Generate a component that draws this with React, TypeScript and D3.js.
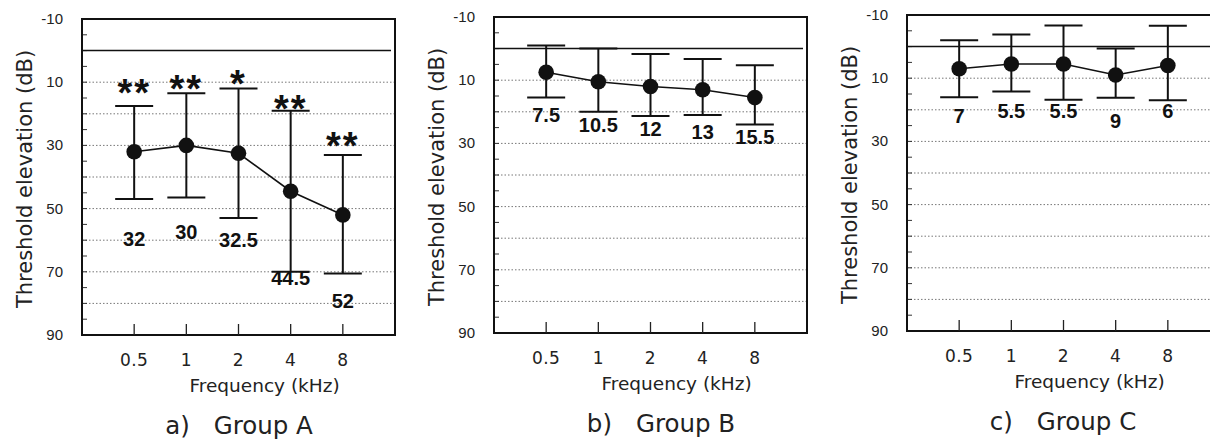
import React from 'react';
import { scaleLinear, line } from 'd3';

// frequencies on the x axis
const freqLabels = ['0.5', '1', '2', '4', '8'];
const panelTags = ['a)', 'b)', 'c)'];
const groupNames = ['Group A', 'Group B', 'Group C'];

// Group A (dB): means, error bar ends, label / star anchors
const meanA = [32, 30, 32.5, 44.5, 52];
const upperA = [17.5, 13.5, 12, 19, 33];
const lowerA = [47, 46.5, 53, 70, 70.5];
const labelAtA = [59.5, 57.3, 59.8, 72, 79.2];
const starsA = ['**', '**', '*', '**', '**'];
const starAtA = [11.3, 10, 8.4, 16.3, 28.1];

// Group B
const meanB = [7.5, 10.5, 12, 13, 15.5];
const upperB = [-1, 0, 1.7, 3.3, 5.3];
const lowerB = [15.5, 20, 21.3, 21, 24];
const labelAtB = [21, 24, 25.3, 26.2, 28];

// Group C
const meanC = [7, 5.5, 5.5, 9, 6];
const upperC = [-2, -3.8, -6.7, 0.6, -6.6];
const lowerC = [16, 14.2, 16.8, 16.2, 17];
const labelAtC = [21.9, 20.3, 20.3, 23.5, 20.3];

const yTickLabels = [-10, 10, 30, 50, 70, 90];
const gridValues = [10, 20, 30, 40, 50, 60, 70, 80];
const minorTicks = [-5, 0, 5, 10, 15, 20, 25, 30, 35, 40, 45, 50, 55, 60, 65, 70, 75, 80, 85];

const groups = [
  { mean: meanA, upper: upperA, lower: lowerA, labelAt: labelAtA, stars: starsA, starAt: starAtA },
  { mean: meanB, upper: upperB, lower: lowerB, labelAt: labelAtB, stars: null, starAt: null },
  { mean: meanC, upper: upperC, lower: lowerC, labelAt: labelAtC, stars: null, starAt: null },
];

// layout
const PANEL_LEFT = [82, 494, 907];
const PANEL_TOP = [19, 17, 15];
const PANEL_W = 313;
const PANEL_H = 316;
const TITLE_X = [239, 661, 1063];

const SANS = '"DejaVu Sans", sans-serif';
const ARIAL = '"Liberation Sans", Arial, sans-serif';

const Panel: React.FC<{ idx: number }> = ({ idx }) => {
  const g = groups[idx];
  const left = PANEL_LEFT[idx];
  const top = PANEL_TOP[idx];
  const right = left + PANEL_W;
  const bottom = top + PANEL_H;

  const x = scaleLinear().domain([0, 6]).range([left, right]);
  const y = scaleLinear().domain([-10, 90]).range([top, bottom]);
  const xi = (i: number) => x(i + 1);

  const path = line<number>()
    .x((_, i) => xi(i))
    .y(d => y(d))(g.mean);

  const cap = 19;
  const yLabelX = left - 57;
  const yLabelY = (top + bottom) / 2 + 2;

  return (
    <g>
      {/* dotted gridlines */}
      {gridValues.map(v => (
        <line key={'g' + v} x1={left} x2={right} y1={y(v)} y2={y(v)}
          stroke="#777" strokeWidth={1} strokeDasharray="1.5,2" />
      ))}
      {/* minor ticks on the left */}
      {minorTicks.map(v => (
        <line key={'m' + v} x1={left} x2={left + 5} y1={y(v)} y2={y(v)} stroke="#333" strokeWidth={1} />
      ))}
      {/* zero reference */}
      <line x1={left} x2={right - 4} y1={y(0)} y2={y(0)} stroke="#111" strokeWidth={1.5} />
      {/* frame */}
      <rect x={left} y={top} width={PANEL_W} height={PANEL_H} fill="none" stroke="#111" strokeWidth={2} />
      {/* x ticks */}
      {freqLabels.map((f, i) => (
        <g key={'x' + f}>
          <line x1={xi(i)} x2={xi(i)} y1={bottom} y2={bottom - 11} stroke="#222" strokeWidth={1.3} />
          <text x={xi(i)} y={bottom + 31} textAnchor="middle" fontFamily={SANS} fontSize={17}
            letterSpacing={0.5} fill="#222">{f}</text>
        </g>
      ))}
      {/* y tick labels */}
      {yTickLabels.map(v => (
        <text key={'y' + v} x={left - 19} y={y(v) + 5} textAnchor="end" fontFamily={ARIAL} fontSize={15} fill="#222">{v}</text>
      ))}
      <text transform={`translate(${yLabelX},${yLabelY}) rotate(-90)`} textAnchor="middle" dy="0.35em"
        fontFamily={SANS} fontSize={21} fill="#222">Threshold elevation (dB)</text>
      <text x={x(3.5)} y={bottom + 57} textAnchor="middle" fontFamily={SANS} fontSize={18.5} fill="#222">Frequency (kHz)</text>
      <text x={TITLE_X[idx]} y={bottom + 99} textAnchor="middle" fontFamily={SANS} fontSize={24.5} fill="#222">
        {panelTags[idx]}<tspan dx={24}>{groupNames[idx]}</tspan>
      </text>

      {/* error bars */}
      {g.mean.map((_, i) => (
        <g key={'e' + i} stroke="#111" strokeWidth={2}>
          <line x1={xi(i)} x2={xi(i)} y1={y(g.upper[i])} y2={y(g.lower[i])} />
          <line x1={xi(i) - cap} x2={xi(i) + cap} y1={y(g.upper[i])} y2={y(g.upper[i])} />
          <line x1={xi(i) - cap} x2={xi(i) + cap} y1={y(g.lower[i])} y2={y(g.lower[i])} />
        </g>
      ))}
      <path d={path || ''} fill="none" stroke="#111" strokeWidth={1.6} />
      {g.mean.map((m, i) => (
        <circle key={'c' + i} cx={xi(i)} cy={y(m)} r={7.8} fill="#111" />
      ))}
      {/* value labels */}
      {g.mean.map((m, i) => (
        <text key={'l' + i} x={xi(i)} y={y(g.labelAt[i])} dy="0.36em" textAnchor="middle"
          fontFamily={ARIAL} fontWeight="bold" fontSize={20} fill="#111">{m}</text>
      ))}
      {/* significance stars */}
      {g.stars && g.starAt && g.stars.map((s, i) => (
        <text key={'s' + i} x={xi(i)} y={y(g.starAt[i]) + 20} textAnchor="middle"
          fontFamily={ARIAL} fontWeight="bold" fontSize={38} letterSpacing={2} fill="#111">{s}</text>
      ))}
    </g>
  );
};

export default function App() {
  return (
    <svg width={1210} height={441} style={{ position: 'absolute', left: 0, top: 0, background: '#fff' }}>
      {groups.map((_, i) => <Panel key={i} idx={i} />)}
    </svg>
  );
}
